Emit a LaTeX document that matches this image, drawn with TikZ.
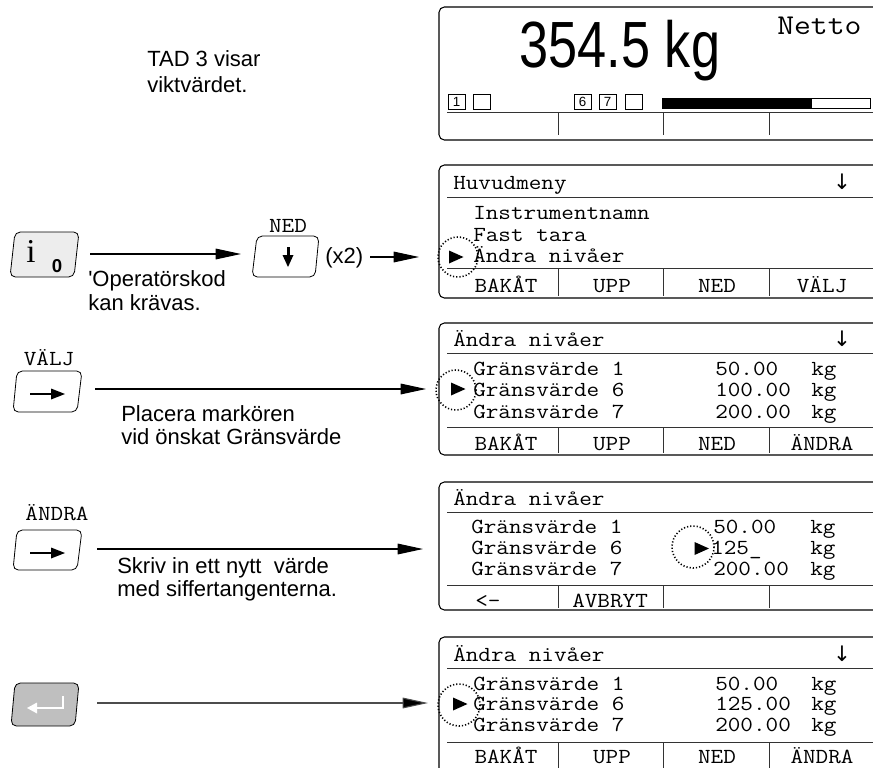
\documentclass[tikz,border=0pt]{standalone}
\usepackage{fontspec}
\setmainfont{Liberation Sans}
\setmonofont[FakeStretch=1.14]{Latin Modern Mono}
\newfontfamily\serifkey{Liberation Serif}
\newfontfamily\rawsans{Liberation Sans}
\newfontfamily\arrowfont{DejaVu Sans}
\usetikzlibrary{arrows.meta}
\tikzset{
  disp/.style={draw=black, line width=0.8pt, rounded corners=4},
  sep/.style={draw=black!80, line width=0.6pt},
  mono/.style={font=\ttfamily\fontsize{16.1}{16.1}\selectfont, inner sep=0pt, anchor=base west},
  monoc/.style={mono, anchor=base},
  sans/.style={font=\fontsize{16.5}{19}\selectfont, inner sep=0pt, anchor=base west},
  conn/.style={line width=0.8pt, -{Triangle[length=19pt,width=8pt]}},
  keybox/.style={draw, line width=0.6pt, rounded corners=4},
  cursor/.style={line width=1.2pt, dash pattern=on 0.9pt off 1.5pt},
  ind/.style={draw, line width=0.5pt, minimum width=12.5pt, minimum height=11pt, inner sep=0pt, font=\fontsize{10}{10}\selectfont},
  dnarrow/.style={font=\arrowfont\fontsize{16}{16}\selectfont, inner sep=0pt, anchor=base}
}
\begin{document}
\begin{tikzpicture}[x=0.75pt, y=-0.75pt]
\useasboundingbox (0,0) rectangle (873,767);
\begin{scope}
\clip (0,0) rectangle (873,767);

% ---------- Display 1 ----------
\draw[disp] (439,7) rectangle (885,140);
\draw[sep] (447,112) -- (885,112);
\foreach \x in {558,663,769} \draw[sep] (\x,112) -- (\x,135);
\node[inner sep=0pt, anchor=base, font=\fontsize{49}{49}\selectfont] (weight) at (620,67) {\scalebox{0.8}[1]{354.5 kg}};
\node[inner sep=0pt, anchor=base west, font=\ttfamily\fontsize{21.5}{21.5}\selectfont] (netto) at (777,35) {Netto};
\node[ind] (i1) at (456.5,101.5) {1};
\node[ind] (i2) at (482,101.5) {};
\node[ind] (i6) at (582.5,101.5) {6};
\node[ind] (i7) at (607.5,101.5) {7};
\node[ind] (i8) at (633.5,101.5) {};
\draw[line width=0.5pt] (662,98) rectangle (870,108);
\fill (662,98) rectangle (812,108);

% ---------- Display 2 ----------
\draw[disp] (439,165) rectangle (885,298);
\draw[sep] (447,197) -- (885,197);
\draw[sep] (447,268) -- (885,268);
\foreach \x in {558,663,769} \draw[sep] (\x,268) -- (\x,296);
\node[mono] (h2) at (453,189) {Huvudmeny};
\node[dnarrow] (a2) at (842,189) {↓};
\node[mono] (r21) at (473,219) {Instrumentnamn};
\node[mono] (r22) at (473,241) {Fast tara};
\node[mono] (r23) at (473,262) {Ändra nivåer};
\node[monoc] (f21) at (506,292) {BAKÅT};
\node[monoc] (f22) at (612,292) {UPP};
\node[monoc] (f23) at (717,292) {NED};
\node[monoc] (f24) at (822,292) {VÄLJ};
\draw[cursor] (458,257) circle (20);
\fill (449,250.5) -- (463.5,257) -- (449,263.5) -- cycle;

% ---------- Display 3 ----------
\draw[disp] (439,323) rectangle (885,455);
\draw[sep] (447,353) -- (885,353);
\draw[sep] (447,427) -- (885,427);
\foreach \x in {558,663,769} \draw[sep] (\x,427) -- (\x,453);
\node[mono] (h3) at (453,346) {Ändra nivåer};
\node[dnarrow] (a3) at (842,346) {↓};
\node[mono] (r31) at (473,375) {Gränsvärde 1};
\node[mono] (r32) at (473,396) {Gränsvärde 6};
\node[mono] (r33) at (473,418) {Gränsvärde 7};
\node[mono] (v31) at (715,375) {50.00};
\node[mono] (v32) at (715,396) {100.00};
\node[mono] (v33) at (715,418) {200.00};
\node[mono] (k31) at (811,375) {kg};
\node[mono] (k32) at (811,396) {kg};
\node[mono] (k33) at (811,418) {kg};
\node[monoc] (f31) at (506,450) {BAKÅT};
\node[monoc] (f32) at (612,450) {UPP};
\node[monoc] (f33) at (717,450) {NED};
\node[monoc] (f34) at (822,450) {ÄNDRA};
\draw[cursor] (456,390) circle (20);
\fill (451,382.5) -- (465.5,389) -- (451,395.5) -- cycle;

% ---------- Display 4 ----------
\draw[disp] (439,482) rectangle (885,610);
\draw[sep] (447,512) -- (885,512);
\draw[sep] (447,585) -- (885,585);
\foreach \x in {558,663,769} \draw[sep] (\x,585) -- (\x,608);
\node[mono] (h4) at (453,505) {Ändra nivåer};
\node[mono] (r41) at (471,533) {Gränsvärde 1};
\node[mono] (r42) at (471,554) {Gränsvärde 6};
\node[mono] (r43) at (471,575) {Gränsvärde 7};
\node[mono] (v41) at (713,533) {50.00};
\node[mono] (v42) at (711,554) {125\_};
\node[mono] (v43) at (713,575) {200.00};
\node[mono] (k41) at (810,533) {kg};
\node[mono] (k42) at (810,554) {kg};
\node[mono] (k43) at (810,575) {kg};
\node[mono] (f41) at (475,607) {<-};
\node[mono] (f42) at (572,607) {AVBRYT};
\draw[cursor] (693,547) circle (21);
\fill (694.5,542) -- (709,548.5) -- (694.5,555) -- cycle;

% ---------- Display 5 ----------
\draw[disp] (439,637) rectangle (885,800);
\draw[sep] (447,668) -- (885,668);
\draw[sep] (447,742) -- (885,742);
\foreach \x in {558,663,769} \draw[sep] (\x,742) -- (\x,770);
\node[mono] (h5) at (453,661) {Ändra nivåer};
\node[dnarrow] (a5) at (842,661) {↓};
\node[mono] (r51) at (473,690) {Gränsvärde 1};
\node[mono] (r52) at (473,710) {Gränsvärde 6};
\node[mono] (r53) at (473,731) {Gränsvärde 7};
\node[mono] (v51) at (715,690) {50.00};
\node[mono] (v52) at (715,710) {125.00};
\node[mono] (v53) at (715,731) {200.00};
\node[mono] (k51) at (811,690) {kg};
\node[mono] (k52) at (811,710) {kg};
\node[mono] (k53) at (811,731) {kg};
\node[monoc] (f51) at (506,763) {BAKÅT};
\node[monoc] (f52) at (612,763) {UPP};
\node[monoc] (f53) at (717,763) {NED};
\node[monoc] (f54) at (822,763) {ÄNDRA};
\draw[cursor] (459,705) circle (21);
\fill (453,697.5) -- (467.5,704) -- (453,710.5) -- cycle;

% ---------- Left texts ----------
\node[sans] (t1a) at (147,66) {TAD 3 visar};
\node[sans] (t1b) at (147,93) {viktvärdet.};
\node[sans] (t2a) at (88,286) {{\rawsans'}Operatörskod};
\node[sans] (t2b) at (88,310) {kan krävas.};
\node[sans] (x2) at (325,263) {(x2)};
\node[sans] (t3a) at (121,421) {Placera markören};
\node[sans] (t3b) at (121,444) {vid önskat Gränsvärde};
\node[sans] (t4a) at (117,573) {Skriv in ett nytt\ \ värde};
\node[sans] (t4b) at (117,596) {med siffertangenterna.};

% ---------- Keys ----------
% i0 key
\draw[keybox, fill=black!7] (15,232) -- (79,232) -- (74,277) -- (10,277) -- cycle;
\node[inner sep=0pt, anchor=base, font=\serifkey\fontsize{25}{25}\selectfont] (ki) at (31,262) {i};
\node[inner sep=0pt, anchor=base, font=\bfseries\fontsize{14}{14}\selectfont] (k0) at (57,272) {0};
% NED key
\draw[keybox, fill=white] (257,236) -- (319,236) -- (315,277) -- (252,277) -- cycle;
\node[monoc] (lned) at (288,232) {NED};
\fill (286.5,247) rectangle (289.5,257);
\fill (282.5,255) -- (293.5,255) -- (288,267) -- cycle;
% VALJ key
\node[monoc] (lvalj) at (49,365) {VÄLJ};
\draw[keybox, fill=white] (17,371) -- (82,371) -- (77,412) -- (13,412) -- cycle;
\draw[line width=2pt] (30,394) -- (54,394);
\fill (51,388.5) -- (65,394) -- (51,399.5) -- cycle;
% ANDRA key
\node[monoc] (landra) at (57,520) {ÄNDRA};
\draw[keybox, fill=white] (17,530) -- (82,530) -- (77,570) -- (13,570) -- cycle;
\draw[line width=2pt] (30,553) -- (54,553);
\fill (51,547.5) -- (65,553) -- (51,558.5) -- cycle;
% Enter key
\draw[keybox, fill=black!25] (15,683) -- (79,683) -- (75,726) -- (11,726) -- cycle;
\draw[white, line width=2pt] (63,696) -- (63,708) -- (35,708);
\fill[white] (37,702.5) -- (27,708) -- (37,713.5) -- cycle;

% ---------- Connectors ----------
\coordinate (c1s) at (90,254);
\coordinate (c1e) at (241,254);
\coordinate (c2s) at (370,257);
\coordinate (c2e) at (419,257);
\coordinate (c3s) at (95,389);
\coordinate (c3e) at (426,389);
\coordinate (c4s) at (97,549);
\coordinate (c4e) at (423,549);
\coordinate (c5s) at (97,703);
\coordinate (c5e) at (428,703);
\draw[conn] (c1s) -- (c1e);
\draw[conn] (c2s) -- (c2e);
\draw[conn] (c3s) -- (c3e);
\draw[conn] (c4s) -- (c4e);
\draw[conn, draw=black!70, -{Triangle[length=19pt,width=8pt,fill=black]}] (c5s) -- (c5e);
\end{scope}
\end{tikzpicture}
\end{document}
